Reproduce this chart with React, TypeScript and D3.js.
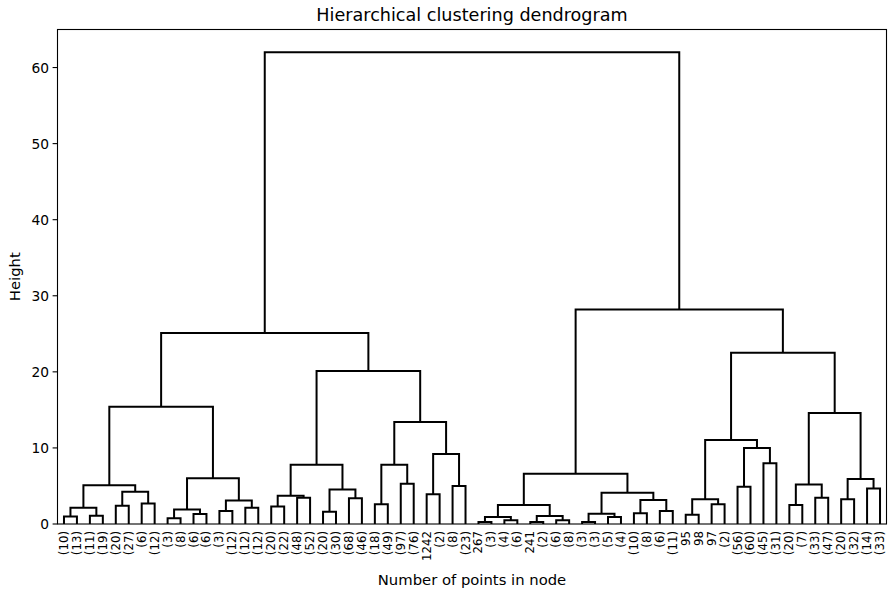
import React from "react";
import * as d3 from "d3";

// Leaf labels in display order (cluster sizes in parentheses, single-point indices plain)
const leafLabels: string[] = [
  "(10)", "(13)", "(11)", "(19)", "(20)", "(27)", "(6)", "(12)",
  "(3)", "(8)", "(6)", "(6)", "(3)", "(12)", "(12)", "(12)",
  "(20)", "(22)", "(48)", "(52)", "(20)", "(30)", "(68)", "(46)",
  "(18)", "(49)", "(97)", "(76)", "1242", "(2)", "(8)", "(23)",
  "267", "(3)", "(4)", "(6)", "241", "(2)", "(6)", "(8)",
  "(3)", "(3)", "(5)", "(4)", "(10)", "(8)", "(6)", "(11)",
  "95", "98", "97", "(2)", "(56)", "(60)", "(45)", "(31)",
  "(20)", "(7)", "(33)", "(47)", "(20)", "(32)", "(14)", "(33)",
];

// Linkage: [left id, right id, merge height]; ids >= 64 refer to earlier merges (64 + row)
const mergeLeft: number[] = [
  0, 2, 4, 6, 8, 10, 12, 14, 16, 18, 20, 22, 24, 26, 28, 30,
  32, 34, 36, 38, 40, 42, 44, 46, 48, 50, 52, 54, 56, 58, 60, 62,
  64, 66, 68, 70, 72, 74, 76, 78, 80, 82, 84, 86, 88, 90, 92, 94,
  96, 98, 100, 102, 104, 106, 108, 110,
  112, 114, 116, 118,
  120, 122,
  124,
];
const mergeRight: number[] = mergeLeft.map((v) => v + 1);
const mergeHeight: number[] = [
  1.0, 1.1, 2.4, 2.7, 0.75, 1.3, 1.7, 2.15, 2.3, 3.45, 1.6, 3.4, 2.6, 5.3, 3.9, 5.0,
  0.26, 0.5, 0.26, 0.5, 0.26, 0.92, 1.4, 1.7, 1.2, 2.6, 4.9, 8.0, 2.5, 3.45, 3.25, 4.65,
  2.15, 4.25, 1.9, 3.1, 3.7, 4.55, 7.8, 9.2, 0.92, 1.05, 1.35, 3.15, 3.25, 10.0, 5.2, 5.9,
  5.1, 6.0, 7.8, 13.4, 2.5, 4.1, 11.05, 14.6,
  15.4, 20.1, 6.6, 22.5,
  25.1, 28.2,
  62.0,
];

const yTicks: number[] = [0, 10, 20, 30, 40, 50, 60];

const W = 889;
const H = 592;
const left = 57.5;
const right = 886.5;
const top = 29.5;
const bottom = 524;
const FONT = "'DejaVu Sans', sans-serif";

export default function App() {
  const n = leafLabels.length;
  const x = d3.scaleLinear().domain([0, n * 10]).range([left, right]);
  const y = d3.scaleLinear().domain([0, 65]).range([bottom, top]);

  // node position (in dendrogram coordinates) and height
  const posX: number[] = leafLabels.map((_, i) => 5 + 10 * i);
  const posH: number[] = leafLabels.map(() => 0);
  const links: string[] = [];
  mergeLeft.forEach((a, k) => {
    const b = mergeRight[k];
    const h = mergeHeight[k];
    const p = d3.path();
    p.moveTo(x(posX[a]), y(posH[a]));
    p.lineTo(x(posX[a]), y(h));
    p.lineTo(x(posX[b]), y(h));
    p.lineTo(x(posX[b]), y(posH[b]));
    links.push(p.toString());
    posX.push((posX[a] + posX[b]) / 2);
    posH.push(h);
  });

  return (
    <svg width={W} height={H} style={{ display: "block", position: "absolute", left: 0, top: 0 }}>
      <rect x={0} y={0} width={W} height={H} fill="#fff" />
      <g fill="none" stroke="#000" strokeWidth={2} strokeLinejoin="miter" strokeLinecap="butt">
        {links.map((d, i) => (
          <path key={i} d={d} />
        ))}
      </g>
      <rect x={left} y={top} width={right - left} height={bottom - top} fill="none" stroke="#000" strokeWidth={1.1} />
      {yTicks.map((t) => (
        <g key={t}>
          <line x1={left - 4.9} x2={left} y1={y(t)} y2={y(t)} stroke="#000" strokeWidth={1.1} />
          <text x={left - 8.5} y={y(t)} textAnchor="end" dominantBaseline="central" fontFamily={FONT} fontSize={13.8} fill="#000">
            {t}
          </text>
        </g>
      ))}
      {leafLabels.map((lab, i) => (
        <text
          key={i}
          transform={`translate(${x(5 + 10 * i)},${bottom + 7}) rotate(-90)`}
          textAnchor="end"
          dominantBaseline="central"
          fontFamily={FONT}
          fontSize={11.8}
          fill="#000"
        >
          {lab}
        </text>
      ))}
      <text x={(left + right) / 2} y={20.5} textAnchor="middle" fontFamily={FONT} fontSize={17.6} fill="#000">
        Hierarchical clustering dendrogram
      </text>
      <text x={(left + right) / 2} y={585} textAnchor="middle" fontFamily={FONT} fontSize={14.8} fill="#000">
        Number of points in node
      </text>
      <text transform={`translate(19.5,${(top + bottom) / 2}) rotate(-90)`} textAnchor="middle" fontFamily={FONT} fontSize={14.8} fill="#000">
        Height
      </text>
    </svg>
  );
}
